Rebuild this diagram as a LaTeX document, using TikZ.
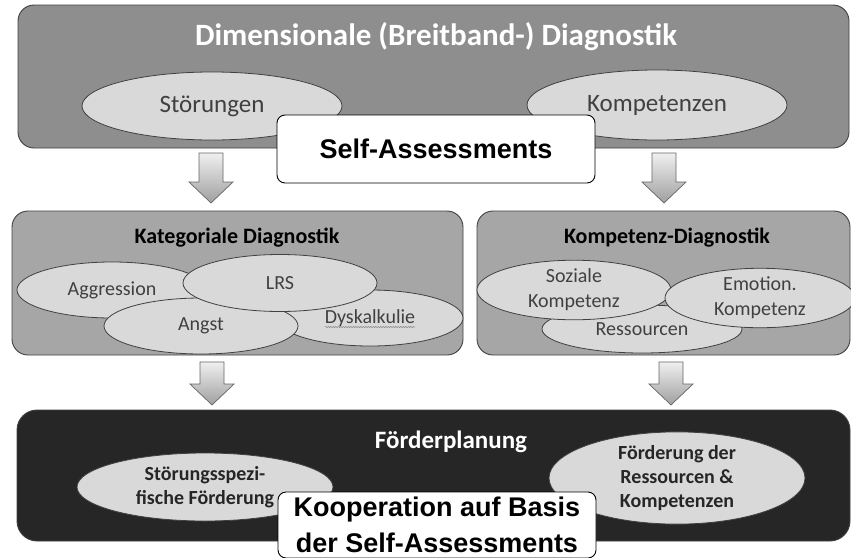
\documentclass[tikz,border=0pt]{standalone}
\usepackage{fontspec}
\setmainfont{Carlito}
\newfontfamily\arialfont{Liberation Sans}
\usetikzlibrary{shapes,calc,positioning,decorations.pathmorphing}

\definecolor{boxgray}{RGB}{142,142,142}
\definecolor{midgray}{RGB}{166,166,166}
\definecolor{ellgray}{RGB}{217,217,217}
\definecolor{darkbox}{RGB}{38,38,38}
\definecolor{txtgray}{RGB}{64,64,64}

\tikzset{
  panel/.style={draw=black!75, line width=0.9pt, rounded corners=16pt, inner sep=0pt, outer sep=0pt},
  blob/.style={ellipse, draw=black!75, fill=ellgray, line width=0.8pt, inner sep=0pt, text=txtgray, align=center},
  saybox/.style={draw=black, fill=white, rounded corners=8pt, line width=0.9pt, inner sep=0pt},
  blockarr/.style={draw=gray!80!black, line width=0.7pt, top color=gray!12, bottom color=gray!75},
}

% block arrow from start coordinate down to tip coordinate
\newcommand{\blockarrow}[2]{%
  \path[blockarr] let \p1=(#1), \p2=(#2) in
    (\x1-12pt,\y1) -- (\x1+12pt,\y1) -- (\x1+12pt,\y2+21pt) -- (\x1+22pt,\y2+21pt)
    -- (\x2,\y2) -- (\x1-22pt,\y2+21pt) -- (\x1-12pt,\y2+21pt) -- cycle;}

\begin{document}
\begin{tikzpicture}[x=1pt, y=-1pt]
    \useasboundingbox (0,0) rectangle (851,557);

    % Dimensional diagnostics
    \node[panel, fill=boxgray, minimum width=831pt, minimum height=143pt] (dimbox) at (433.5,76.5) {};
    \node[text=white, font=\fontsize{31}{35}\selectfont\bfseries] (dimtitle) at (436,37) {Dimensionale (Breitband-) Diagnostik};
    \node[blob, minimum width=260pt, minimum height=68pt, font=\fontsize{25}{28}\selectfont] (stoer) at (212,106) {Störungen};
    \node[blob, minimum width=260pt, minimum height=70pt, font=\fontsize{25}{28}\selectfont] (komp) at (657,105) {Kompetenzen};
    \node[saybox, minimum width=318pt, minimum height=68pt, font=\arialfont\fontsize{27}{32}\selectfont\bfseries] (selfbox) at (436,149) {Self-Assessments};

    % Arrows to the second row
    \coordinate (arrL1s) at (211,153);
    \coordinate (arrL1e) at (211,203);
    \coordinate (arrR1s) at (664,153);
    \coordinate (arrR1e) at (664,203);
    \blockarrow{arrL1s}{arrL1e}
    \blockarrow{arrR1s}{arrR1e}

    % Categorial diagnostics
    \node[panel, fill=midgray, minimum width=451pt, minimum height=144pt] (katbox) at (237.5,283) {};
    \node[font=\fontsize{22}{26}\selectfont\bfseries] (kattitle) at (237,238) {Kategoriale Diagnostik};
    \node[blob, minimum width=190pt, minimum height=56pt, font=\fontsize{20}{24}\selectfont] (aggr) at (112,290) {Aggression};
    \node[blob, minimum width=186pt, minimum height=56pt, font=\fontsize{20}{24}\selectfont] (dysk) at (370,318) {Dyskalkulie};
    \node[blob, minimum width=194pt, minimum height=56pt, font=\fontsize{20}{24}\selectfont] (angst) at (201,326) {Angst};
    \node[blob, minimum width=194pt, minimum height=57pt, font=\fontsize{20}{24}\selectfont] (lrs) at (280,283) {LRS};
    \draw[gray, line width=0.5pt, decorate, decoration={snake, amplitude=0.6pt, segment length=2.5pt}]
        ([xshift=-45pt, yshift=-9pt]dysk.center) -- ([xshift=45pt, yshift=-9pt]dysk.center);

    % Competence diagnostics
    \node[panel, fill=midgray, minimum width=373pt, minimum height=144pt] (kompbox) at (663.5,283) {};
    \node[font=\fontsize{22}{26}\selectfont\bfseries] (komptitle) at (667,238) {Kompetenz-Diagnostik};
    \node[blob, minimum width=200pt, minimum height=48pt, font=\fontsize{20}{24}\selectfont] (ress) at (642,329) {Ressourcen};
    \node[blob, minimum width=194pt, minimum height=56pt, font=\fontsize{20}{25}\selectfont] (sozial) at (574,290) {Soziale\\Kompetenz};
    \node[blob, minimum width=190pt, minimum height=58pt, font=\fontsize{20}{25}\selectfont] (emot) at (760,298) {Emotion.\\Kompetenz};

    % Arrows to the planning row
    \coordinate (arrL2s) at (212,362);
    \coordinate (arrL2e) at (212,405);
    \coordinate (arrR2s) at (671,362);
    \coordinate (arrR2e) at (671,405);
    \blockarrow{arrL2s}{arrL2e}
    \blockarrow{arrR2s}{arrR2e}

    % Support planning
    \node[panel, fill=darkbox, rounded corners=20pt, minimum width=833pt, minimum height=131pt] (foerbox) at (433.5,475.5) {};
    \node[text=white, font=\fontsize{25}{30}\selectfont\bfseries] (foertitle) at (451,442) {Förderplanung};
    \node[blob, text=darkbox, minimum width=256pt, minimum height=68pt, font=\fontsize{20}{24}\selectfont\bfseries] (stspez) at (205,487) {Störungsspezi-\\fische Förderung};
    \node[blob, text=darkbox, minimum width=256pt, minimum height=85pt, font=\fontsize{20}{24}\selectfont\bfseries] (foerres) at (677,478) {Förderung der\\Ressourcen \&\\Kompetenzen};
    \node[saybox, minimum width=318pt, minimum height=66pt, align=center, font=\arialfont\fontsize{27}{36}\selectfont\bfseries] (koopbox) at (437,525) {Kooperation auf Basis\\der Self-Assessments};
\end{tikzpicture}
\end{document}
